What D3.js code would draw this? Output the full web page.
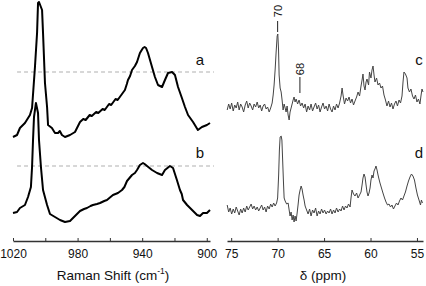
<!DOCTYPE html>
<html>
<head>
<meta charset="utf-8">
<script src="https://cdn.jsdelivr.net/npm/d3@7"></script>
<style>
  body { margin: 0; background: #fff; }
  svg { display: block; font-family: Arial, "Liberation Sans", sans-serif; }
</style>
</head>
<body>
<svg id="chart" width="426" height="286"></svg>
<script>
// Raman spectra, [wavenumber cm-1, intensity a.u.]
const ramanA = [[1020,.03],[1017.5,.05],[1015.7,.12],[1012.6,.17],[1009.5,.25],[1008.2,.32],[1006.4,.73],[1005.1,1.07],
  [1004.5,1.37],[1003.9,1.38],[1002.0,1.30],[1001.4,1.07],[1000.2,.57],[998.9,.33],[998.3,.15],[995.9,.12],[994.0,.07],
  [992.1,.07],[991,.09],[989.7,.05],[987.8,.03],[984.7,.05],[981.6,.08],[978.5,.18],[976.5,.21],[975,.20],[972.5,.25],
  [971.2,.24],[968.5,.28],[967.2,.27],[964.5,.31],[963.2,.30],[960.5,.36],[959.2,.35],[956.5,.41],[955.2,.40],[952.5,.46],
  [950.7,.50],[949.5,.56],[948.8,.60],[947.5,.64],[946.3,.70],[944.5,.74],[943.2,.78],[941.4,.87],[939.5,.92],[938.5,.93],
  [937.6,.92],[936.4,.87],[933.9,.73],[932.1,.63],[930.2,.55],[927.7,.53],[925.9,.60],[924.0,.67],[921.5,.68],[919.7,.65],
  [917.8,.53],[915.4,.42],[913.5,.33],[911.6,.25],[908.5,.18],[905.5,.10],[903.0,.13],[899.9,.15],[898.0,.17]];
const ramanB = [[1020,.12],[1017.5,.13],[1015.7,.17],[1012.6,.20],[1010.7,.28],[1008.9,.38],[1008.2,.58],[1007.6,.85],
  [1007.0,1.08],[1005.8,1.22],[1004.5,1.12],[1003.9,.85],[1002.7,.58],[1001.4,.35],[998.9,.20],[997.1,.11],[994.0,.08],
  [990.9,.05],[987.8,.03],[984.7,.04],[981.6,.09],[978.5,.14],[976,.16],[974.2,.17],[972,.19],[970.5,.20],[968,.21],
  [966.1,.22],[963.5,.24],[961.8,.25],[958.1,.30],[955.0,.32],[952.5,.35],[951,.38],[949.4,.44],[946.3,.50],[944.5,.52],
  [943.2,.55],[941.4,.60],[939.5,.62],[938.5,.61],[937.0,.59],[933.9,.55],[930.8,.52],[927.7,.50],[925.9,.55],[922.8,.59],
  [920.9,.57],[918.5,.45],[916.6,.35],[915.5,.31],[914.7,.25],[912.2,.20],[909.1,.15],[906.0,.10],[904.2,.09],[902.3,.12],
  [899.9,.12],[898.0,.15]];
const ramanOffsets = { a: 0.85, b: 0 };
const ramanRefLevels = { a: 0.68, b: 0.59 };

// 13C NMR spectra, [ppm, intensity a.u.]
const nmrC = [[75.43,-1],[75.27,2],[75.11,-.5],[74.95,2.5],[74.78,-1.5],[74.62,1.5],[74.46,0],[74.30,3],[74.14,-1],[73.98,2],
  [73.82,.5],[73.66,-2],[73.49,1.5],[73.33,3.5],[73.17,0],[73.01,2.5],[72.85,1],[72.69,-1],[72.53,2],[72.37,.5],[72.20,3],
  [72.04,0],[71.88,1.5],[71.72,-1.5],[71.56,1],[71.40,2],[71.24,-.5],[71.08,.5],[70.91,-2],[70.75,0],[70.59,2.5],[70.48,6.5],
  [70.38,11.5],[70.27,19],[70.16,28],[70.05,36],[69.98,37],[69.90,29],[69.84,16.5],[69.73,10],[69.62,8],[69.52,4],[69.41,-1],
  [69.30,2],[69.19,0],[69.09,-2],[68.98,1],[68.87,-3.5],[68.76,-6],[68.66,-2],[68.55,0],[68.44,2],[68.33,4],[68.23,5.5],
  [68.12,3],[68.01,4.5],[67.85,2],[67.69,4],[67.53,1],[67.37,2.5],[67.20,0],[67.04,2],[66.88,-2],[66.72,1],[66.56,-1],
  [66.40,2],[66.24,-1.5],[66.08,.5],[65.91,2.5],[65.75,-.5],[65.59,1.5],[65.43,-2],[65.27,.5],[65.11,2.5],[64.95,-.5],
  [64.78,1],[64.62,-1.5],[64.46,2],[64.30,-.5],[64.14,-2],[63.98,1],[63.82,-1],[63.66,2],[63.49,0],[63.33,2.5],[63.17,6],
  [63.06,10],[62.96,6.5],[62.80,2],[62.63,5],[62.47,3.5],[62.31,5.5],[62.15,2.5],[61.99,4.5],[61.83,1.5],[61.67,3.5],
  [61.50,5.5],[61.34,8],[61.18,6],[61.02,11],[60.91,14],[60.81,17],[60.70,11],[60.59,9],[60.48,13],[60.38,14.5],[60.21,11.5],
  [60.11,18],[59.95,15],[59.84,19],[59.73,21],[59.62,16.5],[59.52,13],[59.35,15],[59.19,11.5],[59.03,12.5],[58.87,10],
  [58.71,11],[58.55,6.5],[58.39,4],[58.23,1],[58.06,3.5],[57.90,.5],[57.74,2.5],[57.58,-.5],[57.42,2],[57.26,3.5],[57.10,1],
  [56.93,4],[56.77,2.5],[56.61,6],[56.50,13],[56.40,18],[56.24,17],[56.07,15],[55.97,10],[55.81,8],[55.65,9.5],[55.48,6],
  [55.32,4.5],[55.16,6.5],[55.00,3],[54.84,4.5],[54.68,2],[54.57,6],[54.46,9.5],[54.35,8]];
const nmrD = [[75.43,3.5],[75.27,0],[75.11,2],[74.95,-1],[74.78,1.5],[74.62,-.5],[74.46,2.5],[74.30,.5],[74.14,-1.5],[73.98,1.5],
  [73.82,-.5],[73.66,2],[73.49,0],[73.33,3],[73.17,1],[73.01,2.5],[72.85,4],[72.69,1.5],[72.53,3],[72.37,1],[72.20,2.5],
  [72.04,.5],[71.88,2],[71.72,3.5],[71.56,1],[71.40,2.5],[71.24,0],[71.08,3],[70.91,1.5],[70.75,4],[70.59,2.5],[70.43,4.5],
  [70.27,3],[70.11,4.5],[70.00,7],[69.89,18.5],[69.81,31],[69.73,37.5],[69.62,38],[69.54,36],[69.46,26],[69.38,16],[69.30,7],
  [69.19,5.5],[69.03,4],[68.87,4.5],[68.76,1],[68.66,-2],[68.55,0],[68.44,-4],[68.33,-1.5],[68.23,-5],[68.12,-2],[68.01,-4.5],
  [67.90,-.5],[67.80,3.5],[67.69,8.5],[67.58,11],[67.47,13],[67.37,11.5],[67.26,8.5],[67.15,6],[67.04,3],[66.88,1],[66.72,-1],
  [66.56,1.5],[66.40,-2],[66.24,1],[66.08,-.5],[65.91,2],[65.75,-2],[65.59,.5],[65.43,-1],[65.27,1.5],[65.11,-.5],[64.95,1],
  [64.78,-1],[64.62,.5],[64.46,-.5],[64.30,1.5],[64.14,-1],[63.98,1],[63.82,-.5],[63.66,2],[63.49,0],[63.33,1.5],[63.17,.5],
  [63.01,3],[62.85,1],[62.69,3],[62.53,2],[62.37,4],[62.20,2.5],[62.10,7],[61.99,11],[61.83,9],[61.67,8],[61.50,9.5],[61.34,7],
  [61.18,8.5],[61.02,10],[60.91,13.5],[60.81,17],[60.70,19],[60.59,17.5],[60.48,13.5],[60.38,10],[60.27,8],[60.16,9.5],
  [60.05,12],[59.95,16],[59.84,18.5],[59.73,17],[59.62,20.5],[59.52,21.5],[59.41,23],[59.30,21],[59.19,18.5],[59.09,16.5],
  [58.98,14.5],[58.82,12],[58.66,9.5],[58.49,7],[58.33,5],[58.17,3.5],[58.01,4],[57.85,2.5],[57.69,3.5],[57.53,1.5],[57.37,3],
  [57.20,4.5],[57.04,3.5],[56.88,5.5],[56.72,7],[56.56,6],[56.40,8],[56.24,10],[56.07,13],[55.91,15.5],[55.75,17.5],[55.59,19],
  [55.43,18],[55.27,16],[55.11,12],[54.95,8.5],[54.78,6],[54.62,3.5],[54.52,6],[54.41,4.5]];
const nmrOffsets = { c: 58.5, d: 6.5 };

const ramanTicks = [1020, 1000, 980, 960, 940, 920, 900];
const ramanLabels = [1020, 980, 940, 900];
const nmrTicks = [75, 70, 65, 60, 55];
const nmrPeaks = [{ ppm: 70, label: "70", top: 2, lineTop: 21, lineBottom: 32 },
                  { ppm: 67.6, label: "68", top: 60, lineTop: 77, lineBottom: 93 }];

const svg = d3.select("#chart");
const axisY = 241;

// scales
let xLeft = d3.scaleLinear().domain([1020, 898]).range([13, 210]);
let yLeft = d3.scaleLinear().domain([0, 2.25]).range([225, 0]);
let xRight = d3.scaleLinear().domain([75.45, 54.35]).range([227, 423]);
let yRight = d3.scaleLinear().domain([0, 100]).range([225, 25]);

// dashed reference lines
["a", "b"].forEach(k => {
  let yy = yLeft(ramanRefLevels[k] + ramanOffsets[k]);
  svg.append("line")
    .attr("x1", xLeft(1017.5)).attr("x2", xLeft(895.5))
    .attr("y1", yy).attr("y2", yy)
    .attr("stroke", "#b0b0b0").attr("stroke-width", 1.2)
    .attr("stroke-dasharray", "4,3");
});

// raman lines
[["a", ramanA], ["b", ramanB]].forEach(([k, data]) => {
  let line = d3.line()
    .x(d => xLeft(d[0]))
    .y(d => yLeft(d[1] + ramanOffsets[k]));
  svg.append("path").datum(data)
    .attr("d", line)
    .attr("fill", "none").attr("stroke", "#000")
    .attr("stroke-width", 2).attr("stroke-linejoin", "round");
});

// nmr lines
[["c", nmrC], ["d", nmrD]].forEach(([k, data]) => {
  let line = d3.line()
    .x(d => xRight(d[0]))
    .y(d => yRight(d[1] + nmrOffsets[k]));
  svg.append("path").datum(data)
    .attr("d", line)
    .attr("fill", "none").attr("stroke", "#444")
    .attr("stroke-width", 1).attr("stroke-linejoin", "round");
});

// axes
let xAxisL = d3.axisBottom(xLeft).tickValues(ramanTicks)
  .tickSizeInner(-3).tickSizeOuter(0).tickPadding(8)
  .tickFormat(d => ramanLabels.includes(d) ? d : "");
let gl = svg.append("g").attr("transform", "translate(0," + axisY + ")").call(xAxisL);

let xAxisR = d3.axisBottom(xRight).tickValues(nmrTicks)
  .tickSizeInner(-3).tickSizeOuter(0).tickPadding(8);
let gr = svg.append("g").attr("transform", "translate(0," + axisY + ")").call(xAxisR);

[gl, gr].forEach(g => {
  g.select(".domain").attr("stroke", "#333").attr("stroke-width", 1.4);
  g.selectAll(".tick line").attr("stroke", "#333").attr("stroke-width", 1);
  g.selectAll("text").attr("font-size", 12).attr("fill", "#111")
    .attr("font-family", "Arial, 'Liberation Sans', sans-serif");
});

// axis titles
let tl = svg.append("text").attr("x", 113).attr("y", 280)
  .attr("text-anchor", "middle").attr("font-size", 13.5).attr("fill", "#111");
tl.append("tspan").text("Raman Shift (cm");
tl.append("tspan").text("-1").attr("font-size", 8.5).attr("dy", -6);
tl.append("tspan").text(")").attr("dy", 6);

svg.append("text").attr("x", 323).attr("y", 280)
  .attr("text-anchor", "middle").attr("font-size", 13.5).attr("fill", "#111")
  .text("\u03b4 (ppm)");

// panel letters
[["a", 200, 65], ["b", 200, 158], ["c", 419, 65], ["d", 419, 158]].forEach(([t, x, y]) => {
  svg.append("text").attr("x", x).attr("y", y)
    .attr("text-anchor", "middle").attr("font-size", 15).attr("fill", "#111")
    .text(t);
});

// peak markers
nmrPeaks.forEach(p => {
  let x = xRight(p.ppm);
  svg.append("line").attr("x1", x).attr("x2", x)
    .attr("y1", p.lineTop).attr("y2", p.lineBottom)
    .attr("stroke", "#222").attr("stroke-width", 1);
  svg.append("text")
    .attr("transform", "translate(" + (x + 4) + "," + (p.top + 9) + ") rotate(-90)")
    .attr("text-anchor", "middle").attr("font-size", 11).attr("fill", "#111")
    .text(p.label);
});
</script>
</body>
</html>
